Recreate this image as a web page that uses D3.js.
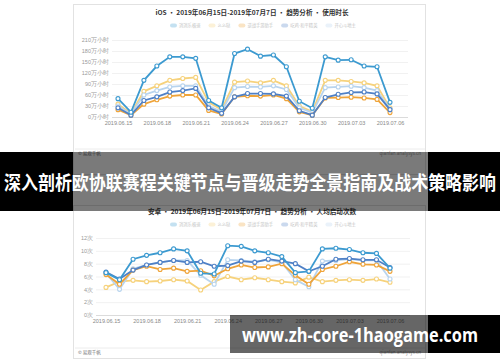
<!DOCTYPE html>
<meta charset="utf-8">
<style>
body { margin: 0; background: #fff; }
svg { display: block; font-family: "Noto Sans CJK SC", "Noto Sans", sans-serif; }
.grid line { stroke: #eeeeee; stroke-width: 0.8; }
.grid path { display: none; }
.grid text { fill: #999; font-size: 5.5px; }
.xaxis path { stroke: #d6d6d6; stroke-width: 0.8; }
.xaxis line { display: none; }
.xaxis text { fill: #888; font-size: 5.5px; }
.series { fill: none; stroke-width: 1.8; }
.dot { fill: #fff; stroke-width: 1.1; }
</style>
<body>
<script src="https://cdn.jsdelivr.net/npm/d3@7"></script>
<script>

// dates on the x axis (one point per day)
var dates = ["2019.06.15","2019.06.16","2019.06.17","2019.06.18","2019.06.19","2019.06.20","2019.06.21",
  "2019.06.22","2019.06.23","2019.06.24","2019.06.25","2019.06.26","2019.06.27","2019.06.28",
  "2019.06.29","2019.06.30","2019.07.01","2019.07.02","2019.07.03","2019.07.04","2019.07.05","2019.07.06"];
var xTickLabels = ["2019.06.15","2019.06.18","2019.06.21","2019.06.24","2019.06.27","2019.06.30","2019.07.03","2019.07.06"];

var seriesNames = ["消消乐极速", "么么哒", "逆战手游助手", "吃鸡-和平精英", "开心斗地主"];
var seriesColors = ["#3c9ad0", "#f6d27c", "#efa43a", "#4f80c6", "#b8d4ee"];

// iOS - 使用时长 (万小时)
var iosA = [50,13,100,139,164,164,160,45,25,173,185,166,169,137,43,24,164,155,156,139,137,40];
var iosB = [35,10,70,85,100,105,108,40,20,95,98,93,100,85,30,15,100,100,97,93,85,25];
var iosC = [20,5,35,47,57,60,60,18,8,55,58,57,60,50,14,5,52,53,54,52,48,12];
var iosD = [25,5,45,55,68,72,78,25,10,55,64,64,63,57,17,5,53,62,67,68,63,20];
var iosE = [30,8,60,72,82,85,85,30,15,80,83,82,85,75,25,12,80,82,84,80,72,22];
var iosTicks = [0,30,60,90,120,150,180,210];

// 安卓 - 人均启动次数 (次)
var andA = [6.6,5.5,8.7,9.3,9.7,10.3,10.0,6.5,6.4,10.8,10.7,10.0,9.7,9.1,6.6,6.8,10.3,10.4,10.2,9.7,9.6,7.3];
var andB = [4.3,5.2,5.4,5.2,5.3,5.5,5.3,3.9,5.2,6.0,5.5,5.8,5.5,5.2,5.0,5.9,5.2,5.4,5.5,5.4,5.6,5.1];
var andC = [6.3,4.8,7.0,7.6,7.1,7.3,6.8,6.9,6.1,7.2,7.8,7.4,7.5,8.0,6.2,4.8,7.1,7.6,8.3,7.9,7.8,6.8];
var andD = [6.7,5.6,7.0,7.8,8.2,8.5,8.2,8.3,7.6,7.7,8.4,8.2,8.7,8.4,8.0,6.8,7.6,8.7,8.8,8.6,8.6,7.4];
var andE = [6.5,4.0,7.2,7.8,8.2,8.5,8.5,6.2,4.8,8.6,8.5,8.3,8.6,8.2,5.5,4.4,8.4,8.5,8.7,8.5,8.5,5.6];
var andTicks = [0,2,4,6,8,10,12];

var bannerText = "深入剖析欧协联赛程关键节点与晋级走势全景指南及战术策略影响";
var watermarkText = "www.zh-core-1haogame.com";

var svg = d3.select("body").append("svg").attr("width", 500).attr("height", 362);

// cards (the two screenshots)
svg.append("rect").attr("x", 73.5).attr("y", 4.5).attr("width", 352).attr("height", 170)
  .attr("fill", "#fff").attr("stroke", "#e2e2e2");
svg.append("rect").attr("x", 73.5).attr("y", 205.5).attr("width", 352).attr("height", 153)
  .attr("fill", "#fff").attr("stroke", "#e2e2e2");

function drawChart(cfg) {
  var g = svg.append("g");
  var x = d3.scalePoint().domain(dates).range([cfg.x0, cfg.x1]);
  var y = d3.scaleLinear().domain([0, d3.max(cfg.ticks)]).range([cfg.y0, cfg.y1]);

  g.append("text").attr("x", 252).attr("y", cfg.titleY).attr("text-anchor", "middle")
    .attr("font-size", 6.6).attr("font-weight", "bold").attr("fill", "#333").text(cfg.title);

  // legend
  var lx = 170;
  seriesNames.forEach(function(name, i) {
    var item = g.append("g");
    item.append("rect").attr("x", lx).attr("y", cfg.titleY + 8.5).attr("width", 7).attr("height", 4)
      .attr("rx", 2).attr("fill", seriesColors[i]).attr("opacity", 0.3);
    var t = item.append("text").attr("x", lx + 9).attr("y", cfg.titleY + 12.3)
      .attr("font-size", 4.3).attr("fill", "#c4c4c4").text(name);
    lx += 9 + t.node().getComputedTextLength() + 8;
  });

  g.append("g").attr("class", "grid")
    .attr("transform", "translate(" + cfg.gx0 + ",0)")
    .call(d3.axisLeft(y).tickValues(cfg.ticks).tickSize(-(cfg.gx1 - cfg.gx0)).tickPadding(3)
      .tickFormat(function(d) { return d + cfg.unit; }));

  g.append("g").attr("class", "xaxis")
    .attr("transform", "translate(0," + cfg.y0 + ")")
    .call(d3.axisBottom(x).tickValues(xTickLabels).tickSize(0).tickPadding(4))
    .select(".domain").attr("d", "M" + cfg.gx0 + ",0.5H" + cfg.gx1);

  var line = d3.line().x(function(d, i) { return x(dates[i]); }).y(function(d) { return y(d); });

  cfg.order.forEach(function(k) {
    var vals = cfg.series[k];
    g.append("path").datum(vals).attr("class", "series")
      .attr("stroke", seriesColors[k]).attr("d", line);
    g.selectAll(null).data(vals).enter().append("circle").attr("class", "dot")
      .attr("cx", function(d, i) { return x(dates[i]); })
      .attr("cy", function(d) { return y(d); })
      .attr("r", 2).attr("stroke", seriesColors[k]);
  });

  // footer
  g.append("line").attr("x1", 75).attr("x2", 425).attr("y1", cfg.footY - 6).attr("y2", cfg.footY - 6)
    .attr("stroke", "#ececec");
  g.append("text").attr("x", 78).attr("y", cfg.footY).attr("font-size", 4.5).attr("fill", "#777").text("© 易观千帆");
  g.append("text").attr("x", 421).attr("y", cfg.footY).attr("text-anchor", "end")
    .attr("font-size", 4.5).attr("fill", "#999").text("qianfan.analysys.cn");
}

drawChart({
  title: "iOS · 2019年06月15日-2019年07月7日 · 趋势分析 · 使用时长",
  titleY: 15, x0: 118, x1: 390, y0: 117, y1: 40, gx0: 112, gx1: 408,
  ticks: iosTicks, unit: "万小时", footY: 155,
  series: [iosA, iosB, iosC, iosD, iosE], order: [1, 4, 2, 3, 0]
});

drawChart({
  title: "安卓 · 2019年06月15日-2019年07月7日 · 趋势分析 · 人均启动次数",
  titleY: 214, x0: 106, x1: 390, y0: 315, y1: 238, gx0: 96, gx1: 410,
  ticks: andTicks, unit: "次", footY: 354,
  series: [andA, andB, andC, andD, andE], order: [1, 4, 2, 3, 0]
});

// headline banner
svg.append("rect").attr("x", 0).attr("y", 152).attr("width", 73).attr("height", 59).attr("fill", "#000");
svg.append("rect").attr("x", 428).attr("y", 152).attr("width", 72).attr("height", 59).attr("fill", "#000");
svg.append("rect").attr("x", 73).attr("y", 152).attr("width", 355).attr("height", 59).attr("fill", "rgba(0,0,0,0.52)");
svg.append("text").attr("x", 4).attr("y", 190).attr("font-size", 19).attr("font-weight", "bold")
  .attr("fill", "#fff").attr("textLength", 492).attr("lengthAdjust", "spacingAndGlyphs").text(bannerText);

// watermark
svg.append("rect").attr("x", 230).attr("y", 315).attr("width", 198).attr("height", 38).attr("fill", "rgba(0,0,0,0.6)");
svg.append("rect").attr("x", 428).attr("y", 315).attr("width", 72).attr("height", 38).attr("fill", "#000");
svg.append("text").attr("x", 242).attr("y", 342).attr("font-size", 20).attr("font-weight", "bold")
  .attr("font-family", "'Open Sans', 'DejaVu Sans', sans-serif")
  .attr("fill", "#fff").attr("textLength", 236).attr("lengthAdjust", "spacingAndGlyphs").text(watermarkText);

</script>
</body>
